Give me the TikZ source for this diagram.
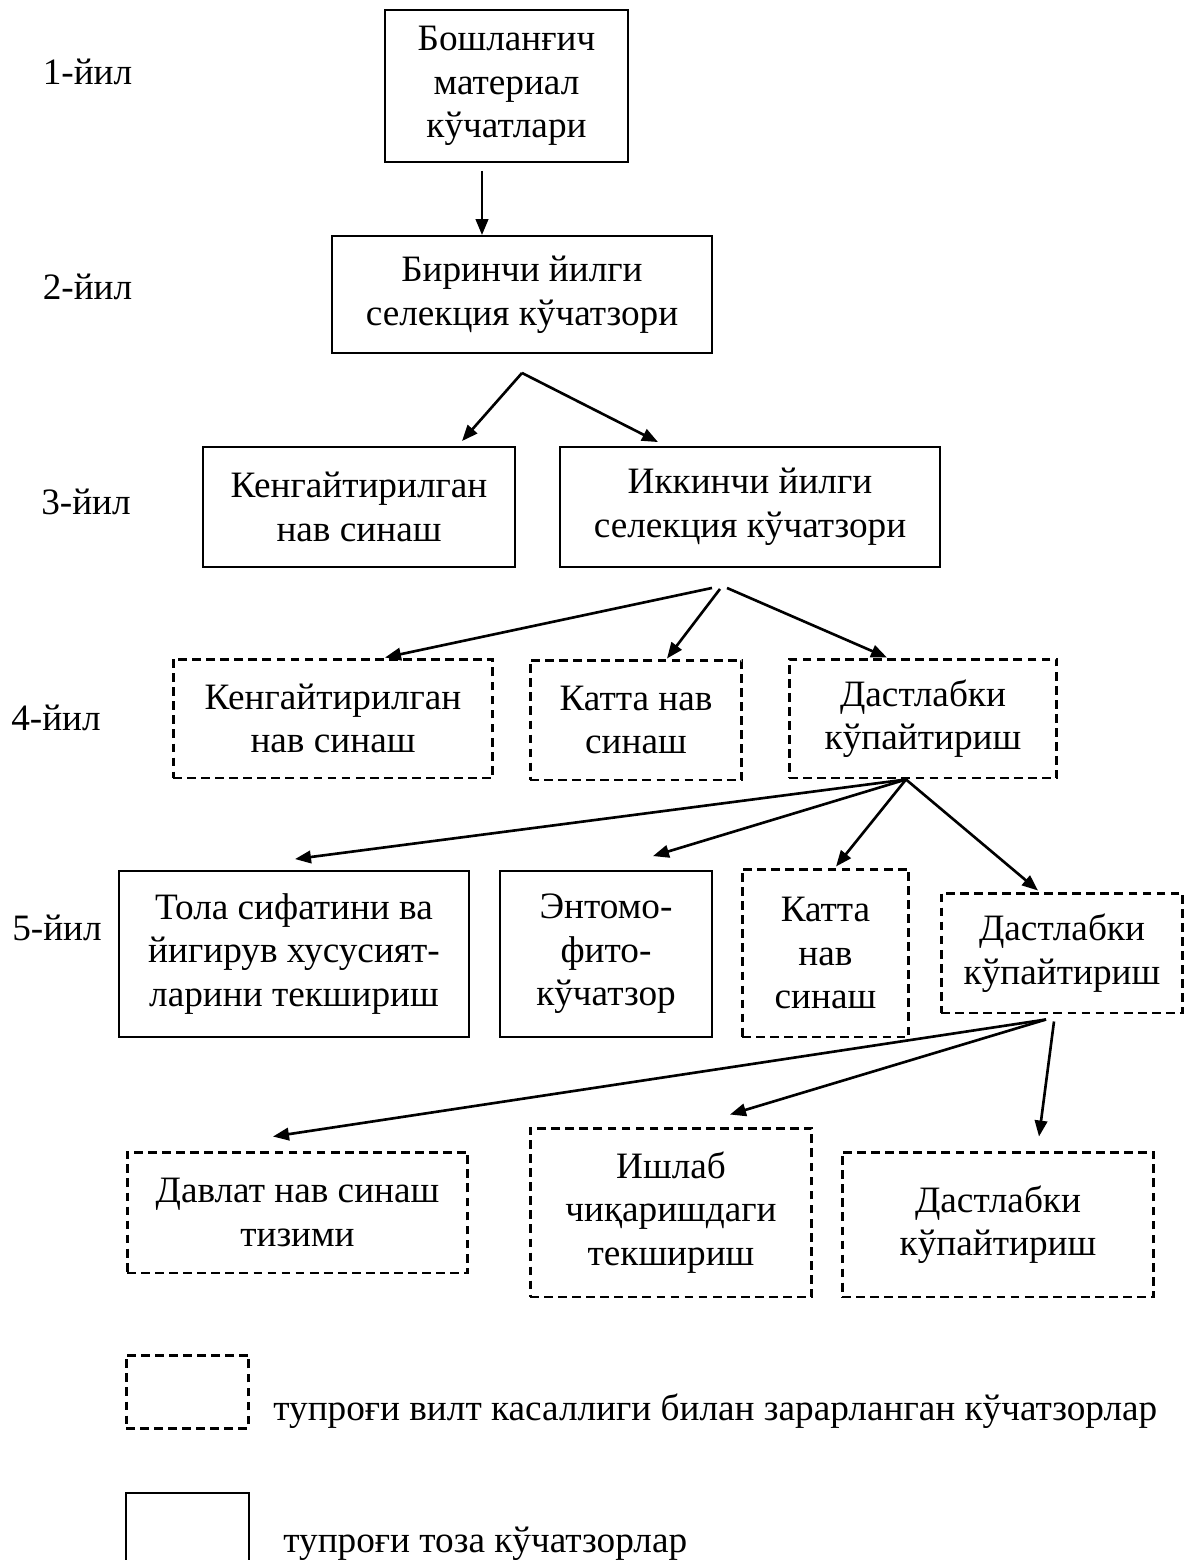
\documentclass[tikz,border=0pt]{standalone}
\usepackage{fontspec}
\setmainfont{Liberation Serif}
\usetikzlibrary{arrows.meta,calc}

\begin{document}
\begin{tikzpicture}[x=0.02cm, y=-0.02cm, >={Triangle[length=0.32cm, width=0.25cm]},
                    every node/.style={font=\fontsize{21.2}{24.8}\selectfont, align=center, inner sep=0pt},
                    toza/.style={draw, line width=1.1pt},
                    vilt/.style={draw, line width=1.7pt, dash pattern=on 5pt off 3pt},
                    yonalish/.style={line width=1.5pt, ->}]

\useasboundingbox (0,0) rectangle (1185,1560);

%% ==== йиллар =========================================================
\node (yil1) at (87.5,72)  {1-йил};
\node (yil2) at (87.5,287) {2-йил};
\node (yil3) at (86,502)   {3-йил};
\node (yil4) at (56,718)   {4-йил};
\node (yil5) at (57,928)   {5-йил};

%% ==== 1--3-йил: тупроғи тоза кўчатзорлар ============================
\node[toza, minimum width=4.86cm, minimum height=3.04cm] (k1) at (506.5,86)
  {Бошланғич\\материал\\кўчатлари};
\node[toza, minimum width=7.6cm, minimum height=2.34cm] (k2) at (522,294.5)
  {Биринчи йилги\\селекция кўчатзори};
\node[toza, minimum width=6.24cm, minimum height=2.4cm] (k3a) at (359,507)
  {Кенгайтирилган\\нав синаш};
\node[toza, minimum width=7.6cm, minimum height=2.4cm] (k3b) at (750,507)
  {Иккинчи йилги\\селекция кўчатзори};

%% ==== 4-йил ==========================================================
\node[vilt, minimum width=6.4cm, minimum height=2.38cm] (k4a) at (333,718.5)
  {Кенгайтирилган\\нав синаш};
\node[vilt, minimum width=4.24cm, minimum height=2.4cm] (k4b) at (636,720)
  {Катта нав\\синаш};
\node[vilt, minimum width=5.36cm, minimum height=2.38cm] (k4c) at (923,718.5)
  {Дастлабки\\кўпайтириш};

%% ==== 5-йил ==========================================================
\node[toza, minimum width=7cm, minimum height=3.32cm] (k5a) at (294,954)
  {Тола сифатини ва\\йигирув хусусият-\\ларини текшириш};
\node[toza, minimum width=4.24cm, minimum height=3.32cm] (k5b) at (606,954)
  {Энтомо-\\фито-\\кўчатзор};
\node[vilt, minimum width=3.34cm, minimum height=3.36cm] (k5c) at (825.5,953)
  {Катта\\нав\\синаш};
\node[vilt, minimum width=4.84cm, minimum height=2.4cm] (k5d) at (1062,953)
  {Дастлабки\\кўпайтириш};

%% ==== кейинги босқич =================================================
\node[vilt, minimum width=6.82cm, minimum height=2.42cm] (k6a) at (297.5,1212.5)
  {Давлат нав синаш\\тизими};
\node[vilt, minimum width=5.64cm, minimum height=3.38cm] (k6b) at (671,1212.5)
  {Ишлаб\\чиқаришдаги\\текшириш};
\node[vilt, minimum width=6.24cm, minimum height=2.9cm] (k6c) at (998,1224.5)
  {Дастлабки\\кўпайтириш};

%% ==== йўналишлар =====================================================
\draw[yonalish] ($(k1.south)+(-24.5,8)$) -- ($(k2.north)+(-40,0)$);

\coordinate (b2) at ($(k2.south)+(0,19)$);
\draw[yonalish] (b2) -- ($(k3a.north)+(103,-5)$);
\draw[yonalish] (b2) -- ($(k3b.north)+(-92,-4)$);

\coordinate (b3l) at ($(k3b.south)+(-38,20)$);
\coordinate (b3m) at ($(k3b.south)+(-30,21)$);
\coordinate (b3r) at ($(k3b.south)+(-23,20)$);
\draw[yonalish] (b3l) -- ($(k4a.north)+(52,0)$);
\draw[yonalish] (b3m) -- ($(k4b.north)+(31,0)$);
\draw[yonalish] (b3r) -- ($(k4c.north)+(-36,0)$);

\coordinate (b4) at ($(k4c.south)+(-17,0)$);
\draw[yonalish] (b4) -- ($(k5a.north)+(1,-11)$);
\draw[yonalish] (b4) -- ($(k5b.north)+(47,-14)$);
\draw[yonalish] (b4) -- ($(k5c.north)+(10.5,-1)$);
\draw[yonalish] (b4) -- ($(k5d.north)+(-24,-1)$);

\coordinate (b5l) at ($(k5d.south)+(-16,5)$);
\coordinate (b5r) at ($(k5d.south)+(-8,7)$);
\draw[yonalish] (b5l) -- ($(k6a.north)+(-24.5,-14)$);
\draw[yonalish] (b5l) -- ($(k6b.north)+(59,-12)$);
\draw[yonalish] (b5r) -- ($(k6c.north)+(41,-14)$);

%% ==== шартли белгилар ================================================
\node[vilt, minimum width=2.46cm, minimum height=1.46cm] (belgi1) at (187.5,1391.5) {};
\node[anchor=base west] (izoh1) at (273,1420)
  {тупроғи вилт касаллиги билан зарарланган кўчатзорлар};
\node[toza, minimum width=2.46cm, minimum height=1.7cm] (belgi2) at (187.5,1535.5) {};
\node[anchor=base west] (izoh2) at (283,1552) {тупроғи тоза кўчатзорлар};

\end{tikzpicture}
\end{document}
